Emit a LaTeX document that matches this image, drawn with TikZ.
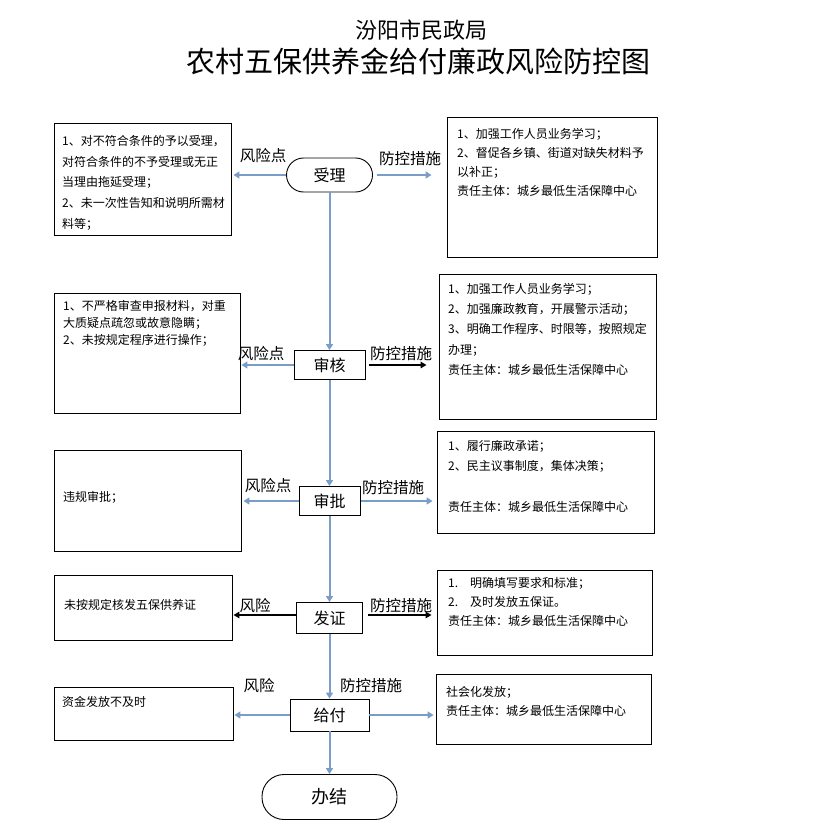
\documentclass[tikz,border=0pt]{standalone}
\usepackage{fontspec}
\setmainfont{Noto Sans CJK SC}
\usetikzlibrary{arrows.meta}
\definecolor{flowblue}{RGB}{122,157,200}
\tikzset{
  box/.style={draw=black, line width=0.9pt, inner sep=0pt},
  stepnode/.style={draw=black, line width=0.9pt, font=\fontsize{16}{16}\selectfont, inner sep=0pt},
  term/.style={stepnode, rounded corners=17pt},
  txt/.style={anchor=north west, align=left, inner sep=0pt, font=\fontsize{12}{20}\selectfont},
  lbl/.style={font=\fontsize{15.5}{15.5}\selectfont, inner sep=0pt},
  barrow/.style={draw=flowblue, line width=2pt, -{Triangle[length=6pt,width=7pt]}},
  karrow/.style={draw=black, line width=1.6pt, -{Triangle[length=6pt,width=6.5pt]}},
}
\begin{document}
\begin{tikzpicture}[x=1pt,y=-1pt]
\useasboundingbox (0,0) rectangle (823,837);

% titles
\node[font=\fontsize{22}{22}\selectfont, inner sep=0pt] (t1) at (421,30) {汾阳市民政局};
\node[font=\fontsize{29}{29}\selectfont, inner sep=0pt] (t2) at (418,61) {农村五保供养金给付廉政风险防控图};

% main steps
\node[term, minimum width=86pt, minimum height=34pt] (sl) at (329.5,175) {受理};
\node[stepnode, minimum width=71pt, minimum height=29pt] (sh) at (329.5,365) {审核};
\node[stepnode, minimum width=61pt, minimum height=29pt] (sp) at (329.5,501) {审批};
\node[stepnode, minimum width=66pt, minimum height=31pt] (fz) at (329.5,618) {发证};
\node[stepnode, minimum width=79pt, minimum height=32pt] (gf) at (329.5,715) {给付};
\node[term, rounded corners=22pt, minimum width=135pt, minimum height=45pt, font=\fontsize{18}{18}\selectfont] (bj) at (329.5,797) {办结};

% side boxes
\node[box, minimum width=177pt, minimum height=112pt] (L1) at (142.5,179) {};
\node[box, minimum width=210pt, minimum height=140pt] (R1) at (552,187) {};
\node[box, minimum width=186pt, minimum height=120pt] (L2) at (147,353) {};
\node[box, minimum width=217pt, minimum height=145pt] (R2) at (547.5,346.5) {};
\node[box, minimum width=187pt, minimum height=101pt] (L3) at (147.5,500.5) {};
\node[box, minimum width=217pt, minimum height=102pt] (R3) at (545.5,482) {};
\node[box, minimum width=178pt, minimum height=65pt] (L4) at (143,607.5) {};
\node[box, minimum width=215pt, minimum height=85pt] (R4) at (544.5,612.5) {};
\node[box, minimum width=179pt, minimum height=53pt] (L5) at (143.5,713.5) {};
\node[box, minimum width=215pt, minimum height=70pt] (R5) at (543.5,709) {};

% box texts
\node[txt, font=\fontsize{12}{20.8}\selectfont] (L1t) at (62,135) {1、对不符合条件的予以受理，\\对符合条件的不予受理或无正\\当理由拖延受理；\\2、未一次性告知和说明所需材\\料等；};
\node[txt, font=\fontsize{12}{19}\selectfont] (R1t) at (457,128) {1、加强工作人员业务学习；\\2、督促各乡镇、街道对缺失材料予\\以补正；\\责任主体：城乡最低生活保障中心};
\node[txt, font=\fontsize{12}{17}\selectfont] (L2t) at (63,300) {1、不严格审查申报材料，对重\\大质疑点疏忽或故意隐瞒；\\2、未按规定程序进行操作；};
\node[txt, font=\fontsize{12}{20.3}\selectfont] (R2t) at (448,283) {1、加强工作人员业务学习；\\2、加强廉政教育，开展警示活动；\\3、明确工作程序、时限等，按照规定\\办理；\\责任主体：城乡最低生活保障中心};
\node[txt] (L3t) at (63,491) {违规审批；};
\node[txt, font=\fontsize{12}{20.3}\selectfont] (R3t) at (448,440) {1、履行廉政承诺；\\2、民主议事制度，集体决策；\\\mbox{}\\责任主体：城乡最低生活保障中心};
\node[txt] (L4t) at (64,599) {未按规定核发五保供养证};
\node[txt, font=\fontsize{12}{19}\selectfont] (R4t) at (448,577) {\makebox[22pt][l]{1.}明确填写要求和标准；\\\makebox[22pt][l]{2.}及时发放五保证。\\责任主体：城乡最低生活保障中心};
\node[txt] (L5t) at (62,696) {资金发放不及时};
\node[txt, font=\fontsize{12}{19}\selectfont] (R5t) at (446,686) {社会化发放；\\责任主体：城乡最低生活保障中心};

% arrow labels
\node[lbl] (a1l) at (263,156) {风险点};
\node[lbl] (a1r) at (410,159) {防控措施};
\node[lbl] (a2l) at (261,354) {风险点};
\node[lbl] (a2r) at (401,354) {防控措施};
\node[lbl] (a3l) at (268,486) {风险点};
\node[lbl] (a3r) at (393,488) {防控措施};
\node[lbl] (a4l) at (255,606) {风险};
\node[lbl] (a4r) at (401,606) {防控措施};
\node[lbl] (a5l) at (259,686) {风险};
\node[lbl] (a5r) at (371,686) {防控措施};

% main flow
\draw[barrow] (sl.south) -- (sh.north);
\draw[barrow] (sh.south) -- (sp.north);
\draw[barrow] (sp.south) -- (fz.north);
\draw[barrow] (fz.south) -- (gf.north);
\draw[barrow] (gf.south) -- (bj.north);

% side arrows
\draw[barrow, shorten >=2pt] (sl.west) -- (sl.west -| L1.east);
\draw[barrow, shorten <=4pt, shorten >=15pt] (sl.east) -- (sl.east -| R1.west);
\draw[barrow, shorten >=1pt] (sh.west) -- (sh.west -| L2.east);
\draw[karrow, shorten <=4pt, shorten >=12pt] (sh.east) -- (sh.east -| R2.west);
\draw[barrow, shorten >=2pt] (sp.west) -- (sp.west -| L3.east);
\draw[barrow, shorten <=1pt, shorten >=4pt] (sp.east) -- (sp.east -| R3.west);
\draw[karrow, shorten >=1pt] ([yshift=3pt]fz.west) -- ([yshift=3pt]fz.west -| L4.east);
\draw[karrow, shorten <=5pt, shorten >=5pt] ([yshift=3pt]fz.east) -- ([yshift=3pt]fz.east -| R4.west);
\draw[barrow, shorten >=1pt] (gf.west) -- (gf.west -| L5.east);
\draw[barrow, shorten >=2pt] (gf.east) -- (gf.east -| R5.west);
\end{tikzpicture}
\end{document}
